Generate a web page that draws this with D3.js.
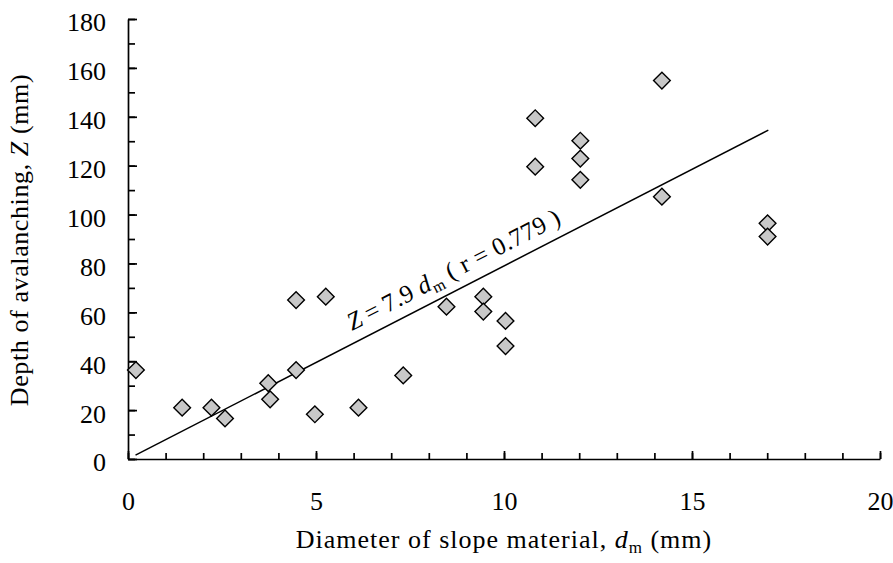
<!DOCTYPE html>
<html>
<head>
<meta charset="utf-8">
<script src="https://cdn.jsdelivr.net/npm/d3@7"></script>
</head>
<body style="margin:0; background:#fff">
<div id="chart"></div>
<script>
// diameter of slope material d_m (mm)
var dm = [0.21, 1.44, 2.22, 2.58, 3.73, 3.78, 4.47, 4.47, 4.97, 5.26, 6.13, 7.32, 8.47,
	9.45, 9.45, 10.04, 10.04, 10.83, 10.83, 12.03, 12.03, 12.03, 14.2, 14.2, 17.01, 17.01];
// depth of avalanching Z (mm)
var depth = [36.4, 21, 21, 16.6, 31, 24.4, 36.4, 65, 18.3, 66.4, 21, 34.2, 62.3,
	66.4, 60.3, 56.5, 46.2, 139.4, 119.6, 130.2, 122.9, 114.2, 154.8, 107.3, 96.4, 91.0];
var fit_slope = 7.9;
var fit_range = [0.2, 17.03];
var x_ticks = [0, 5, 10, 15, 20];
var y_ticks = [0, 20, 40, 60, 80, 100, 120, 140, 160, 180];

var width = 893, height = 563;
var margin = {left: 128, right: 13, top: 19, bottom: 104};
var font = "Liberation Serif";

var svg = d3.select("#chart").append("svg")
	.attr("width", width)
	.attr("height", height)
	.attr("font-family", font);

var x = d3.scaleLinear().domain([0, 20]).range([margin.left, width - margin.right]);
var y = d3.scaleLinear().domain([0, 180]).range([height - margin.bottom, margin.top]);

//minor ticks first, then major ticks with labels (ticks point inward)
svg.append("g")
	.attr("transform", "translate(0," + y(0) + ")")
	.call(d3.axisTop(x).tickValues(d3.range(0, 21, 1)).tickSize(6).tickFormat(""))
	.call(function(g){ g.select(".domain").remove(); });
svg.append("g")
	.attr("transform", "translate(" + x(0) + ",0)")
	.call(d3.axisRight(y).tickValues(d3.range(0, 181, 10)).tickSize(7).tickFormat(""))
	.call(function(g){ g.select(".domain").remove(); });

var x_axis = svg.append("g")
	.attr("transform", "translate(0," + y(0) + ")")
	.call(d3.axisTop(x).tickValues(x_ticks).tickSize(8).tickSizeOuter(0))
	.attr("font-family", font)
	.attr("font-size", 26);
x_axis.selectAll("text")
	.attr("y", 51)
	.attr("fill", "#000");

var y_axis = svg.append("g")
	.attr("transform", "translate(" + x(0) + ",0)")
	.call(d3.axisRight(y).tickValues(y_ticks).tickSize(9).tickSizeOuter(0))
	.attr("font-family", font)
	.attr("font-size", 26);
y_axis.selectAll("text")
	.attr("x", -22)
	.attr("dy", "0.46em")
	.attr("text-anchor", "end")
	.attr("fill", "#000");

svg.selectAll(".domain, .tick line").attr("stroke", "#000").attr("stroke-width", 1.7);

//regression line
svg.append("line")
	.attr("x1", x(fit_range[0]))
	.attr("y1", y(fit_slope * fit_range[0]))
	.attr("x2", x(fit_range[1]))
	.attr("y2", y(fit_slope * fit_range[1]))
	.attr("stroke", "#000")
	.attr("stroke-width", 1.5);

//diamond markers
var diamond = d3.symbol().type(d3.symbolSquare).size(140);
svg.selectAll(".marker")
	.data(d3.range(dm.length))
	.enter()
	.append("path")
	.attr("class", "marker")
	.attr("d", diamond)
	.attr("transform", function(i){ return "translate(" + x(dm[i]) + "," + y(depth[i]) + ") rotate(45)"; })
	.attr("fill", "#c8c8c8")
	.attr("stroke", "#000")
	.attr("stroke-width", 1.4);

//equation label along the line
var angle = Math.atan((y(0) - y(fit_slope)) / (x(1) - x(0))) * 180 / Math.PI;
var eq = svg.append("text")
	.attr("transform", "translate(352,331) rotate(" + (-angle) + ")")
	.attr("font-size", 25)
	.attr("letter-spacing", 0.4);
eq.append("tspan").attr("font-style", "italic").text("Z");
eq.append("tspan").text("\u2009=\u20097.9 ");
eq.append("tspan").attr("font-style", "italic").text("d");
eq.append("tspan").attr("dy", 5).attr("font-size", 16).text("m");
eq.append("tspan").attr("dy", -5).text(" ( r = 0.779 )");

//axis titles
var xt = svg.append("text")
	.attr("x", 504)
	.attr("y", 548)
	.attr("text-anchor", "middle")
	.attr("font-size", 26)
	.attr("letter-spacing", 1);
xt.append("tspan").text("Diameter of slope material, ");
xt.append("tspan").attr("font-style", "italic").text("d");
xt.append("tspan").attr("dy", 5).attr("font-size", 17).text("m");
xt.append("tspan").attr("dy", -5).text(" (mm)");

var yt = svg.append("text")
	.attr("transform", "translate(28,240) rotate(-90)")
	.attr("text-anchor", "middle")
	.attr("font-size", 26)
	.attr("letter-spacing", 0.6);
yt.append("tspan").text("Depth of avalanching, ");
yt.append("tspan").attr("font-style", "italic").text("Z");
yt.append("tspan").text(" (mm)");
</script>
</body>
</html>
